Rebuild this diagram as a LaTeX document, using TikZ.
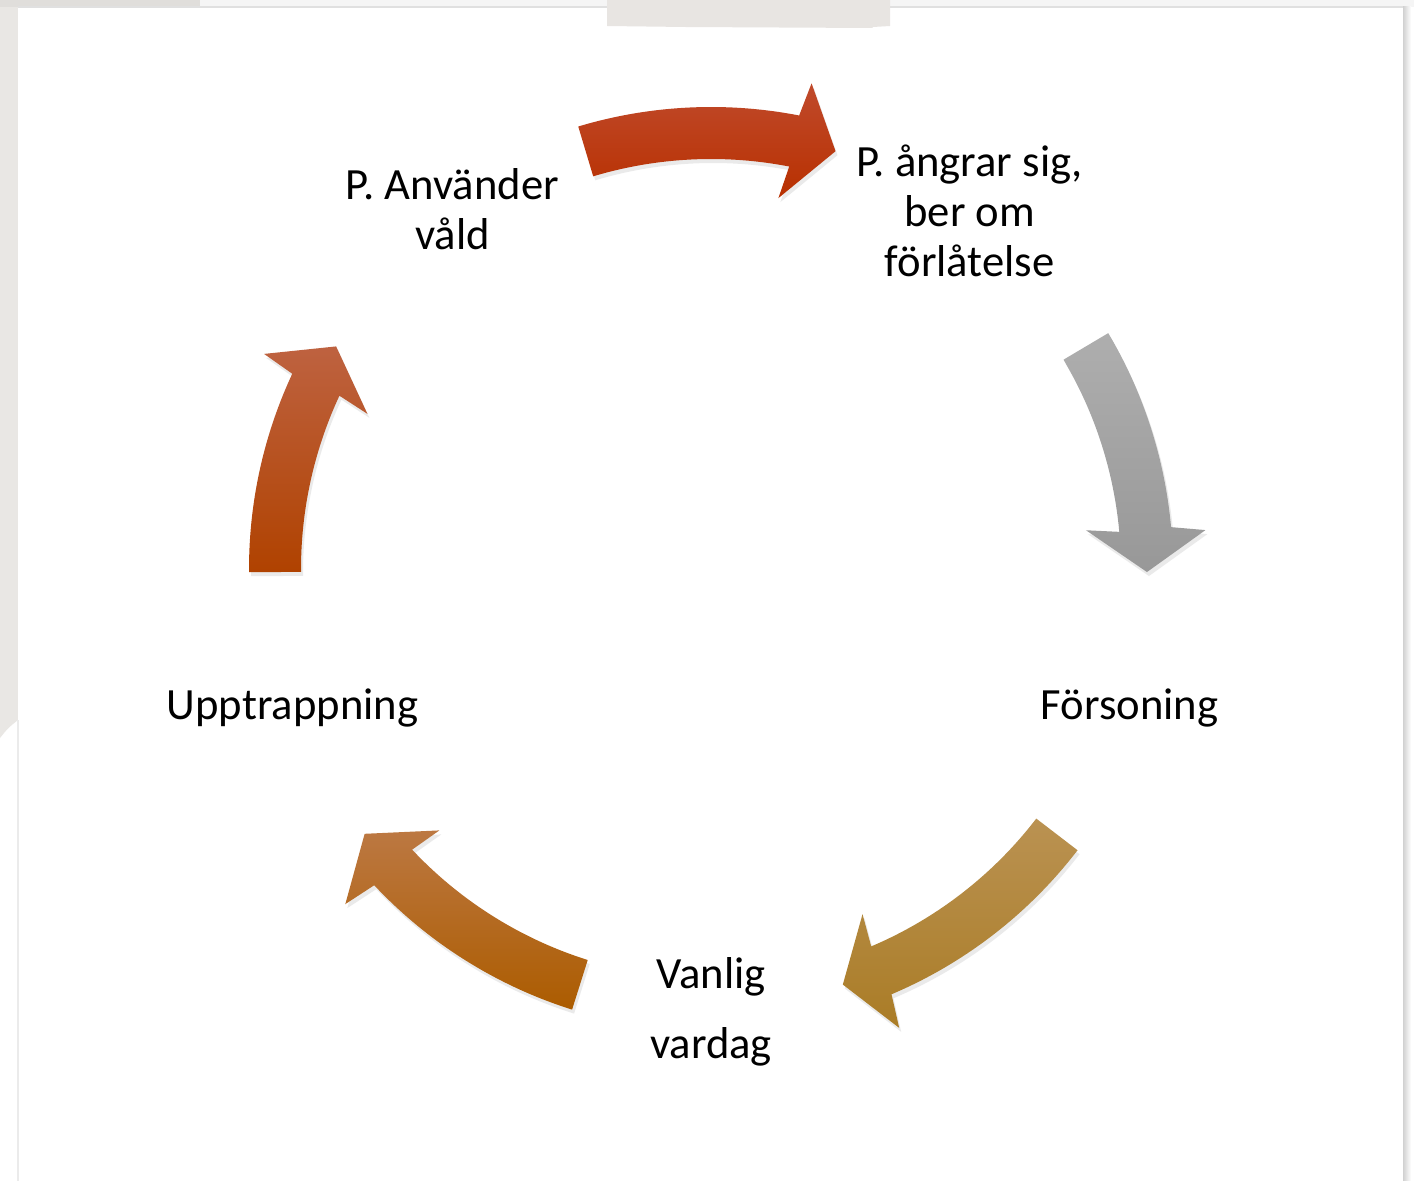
\documentclass[tikz,border=0pt]{standalone}
\usepackage{fontspec}
\setmainfont{Carlito}
\usepackage{tikz}
\usetikzlibrary{shadows, calc}
\definecolor{paper}{RGB}{233,231,228}
\definecolor{paperdark}{RGB}{224,222,219}
\definecolor{tape}{RGB}{232,229,226}
\definecolor{rustA}{RGB}{192,74,44}
\definecolor{rustB}{RGB}{184,48,0}
\definecolor{greyA}{RGB}{174,174,174}
\definecolor{greyB}{RGB}{152,152,152}
\definecolor{goldA}{RGB}{186,146,82}
\definecolor{goldB}{RGB}{170,124,38}
\definecolor{amberA}{RGB}{188,120,66}
\definecolor{amberB}{RGB}{172,92,0}
\definecolor{emberA}{RGB}{190,98,64}
\definecolor{emberB}{RGB}{176,66,0}
\tikzstyle{stage} = [
align=center,
inner sep=0pt,
font=\fontsize{12.7}{14.2}\selectfont]
\tikzstyle{bent} = [
drop shadow={shadow xshift=0.02cm, shadow yshift=-0.04cm, opacity=0.16}]
\tikzstyle{toAngrar} = [bent, top color=rustA, bottom color=rustB]
\tikzstyle{toForsoning} = [bent, top color=greyA, bottom color=greyB]
\tikzstyle{toVardag} = [bent, top color=goldA, bottom color=goldB]
\tikzstyle{toUpptrappning} = [bent, top color=amberA, bottom color=amberB]
\tikzstyle{toVald} = [bent, top color=emberA, bottom color=emberB]
% radii of the ring (band, head and tip)
\newcommand{\radout}{4.62}
\newcommand{\radin}{4.10}
\newcommand{\radmid}{4.36}
\newcommand{\radhead}{4.96}
\newcommand{\radfoot}{3.77}
% #1 tail angle, #2 head angle, #3 tip angle, #4 style
\newcommand{\bentarrow}[4]{%
\path[#4] (#1:\radout) arc[start angle=#1, end angle=#2, radius=\radout]
 -- ({#2-0.7}:\radhead) -- (#3:\radmid) -- ({#2+0.7}:\radfoot)
 -- (#2:\radin) arc[start angle=#2, end angle=#1, radius=\radin] -- cycle;}

\begin{document}
\begin{tikzpicture}
	\useasboundingbox (0,0) rectangle (14.14,-11.81);
	% slide background
	\fill[white] (0,0) rectangle (14.14,-11.81);
	\fill[paper] (0,0) -- (0.18,0) -- (0.18,-7.20) .. controls (0.08,-7.28) .. (0,-7.38) -- cycle;
	\fill[paperdark] (0,0) rectangle (2.00,-0.07);
	\fill[black!4] (2.00,0) rectangle (14.14,-0.07);
	\draw[black!12, line width=0.3pt] (0.18,-0.07) -- (14.03,-0.07);
	\draw[black!8, line width=0.3pt] (0.18,-7.20) -- (0.18,-11.81);
	\shade[left color=black!18, right color=white] (14.03,-0.07) rectangle (14.11,-11.81);
	\fill[tape] (6.07,0) -- (8.90,0) -- (8.90,-0.26) -- (8.73,-0.27) -- (8.72,-0.28)
		-- (6.85,-0.27) -- (6.07,-0.26) -- cycle;

	\coordinate (hub) at (7.11,-5.69);
	\node (vald) [stage, yshift=0.04cm] at ($(hub)+(126:4.40)$) {P. Använder\\våld};
	\node (angrar) [stage, yshift=0.02cm] at ($(hub)+(54:4.40)$) {P. ångrar sig,\\ber om\\förlåtelse};
	\node (forsoning) [stage, yshift=-0.03cm] at ($(hub)+(-18:4.40)$) {Försoning};
	\node (vardag) [stage, yshift=-0.03cm] at ($(hub)+(-90:4.40)$) {Vanlig\\[5.6pt]vardag};
	\node (upptrappning) [stage, yshift=-0.03cm] at ($(hub)+(198:4.40)$) {Upptrappning};

	\begin{scope}[shift={(hub)}]
		\bentarrow{106.7}{79}{73.4}{toAngrar}
		\bentarrow{30.7}{5.2}{-0.4}{toForsoning}
		\bentarrow{-37.5}{-67}{-72.4}{toVardag}
		\bentarrow{-107.5}{-136.8}{-142.6}{toUpptrappning}
		\bentarrow{180.4}{155}{149.3}{toVald}
	\end{scope}
\end{tikzpicture}
\end{document}
